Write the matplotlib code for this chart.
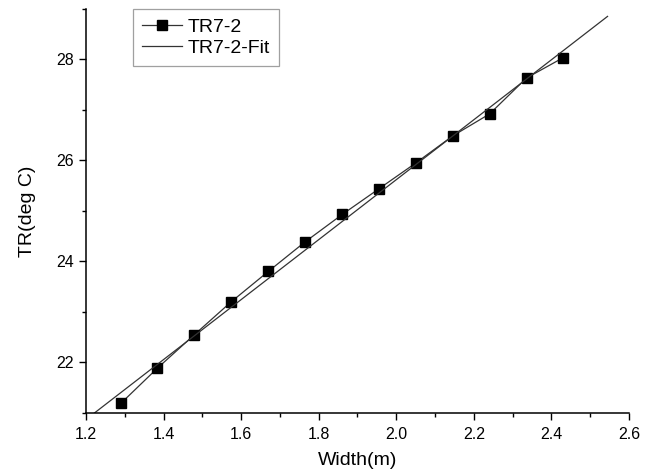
import matplotlib
matplotlib.use("Agg")
import matplotlib.pyplot as plt
from matplotlib.ticker import MultipleLocator

plt.rcParams['font.family'] = ['Liberation Sans', 'DejaVu Sans']

width = [1.290, 1.384, 1.479, 1.573, 1.670, 1.764, 1.861, 1.955, 2.050, 2.146, 2.241, 2.336, 2.430]
tr = [21.19, 21.885, 22.545, 23.19, 23.80, 24.38, 24.93, 25.435, 25.945, 26.485, 26.92, 27.63, 28.03]
fit_x = [1.222, 2.545]
fit_y = [21.0, 28.85]
x_ticks = [1.2, 1.4, 1.6, 1.8, 2.0, 2.2, 2.4, 2.6]
y_ticks = [22, 24, 26, 28]

fig = plt.figure(figsize=(6.49, 4.76), dpi=100)
ax = fig.add_axes([0.1325, 0.1325, 0.8365, 0.849])

ax.plot(width, tr, color='#333333', lw=0.9, marker='s', markersize=6.5,
        markerfacecolor='black', markeredgecolor='black', label='TR7-2')
ax.plot(fit_x, fit_y, color='#333333', lw=0.9, label='TR7-2-Fit')

ax.set_xlim(1.2, 2.6)
ax.set_ylim(21, 29)
ax.set_xticks(x_ticks)
ax.set_xticklabels([f"{v:.1f}" for v in x_ticks])
ax.set_yticks(y_ticks)
ax.xaxis.set_minor_locator(MultipleLocator(0.1))
ax.yaxis.set_minor_locator(MultipleLocator(1))
ax.tick_params(which='major', direction='out', length=5, width=1, labelsize=11.5, colors='black')
ax.tick_params(axis='x', which='major', pad=5)
ax.tick_params(which='minor', direction='out', length=3, width=1)
for s in ['top', 'right']:
    ax.spines[s].set_visible(False)
for s in ['left', 'bottom']:
    ax.spines[s].set_linewidth(1.1)

ax.set_xlabel('Width(m)', fontsize=14, labelpad=7)
ax.set_ylabel('TR(deg C)', fontsize=14, labelpad=15)

leg = ax.legend(loc='upper left', bbox_to_anchor=(0.086, 1.0), fontsize=14,
                frameon=True, fancybox=False, edgecolor='#888888',
                handlelength=2.06, handletextpad=0.25, borderpad=0.5,
                borderaxespad=0.0, labelspacing=0.15)
leg.get_frame().set_linewidth(0.9)

fig.savefig('out.png', dpi=100)
